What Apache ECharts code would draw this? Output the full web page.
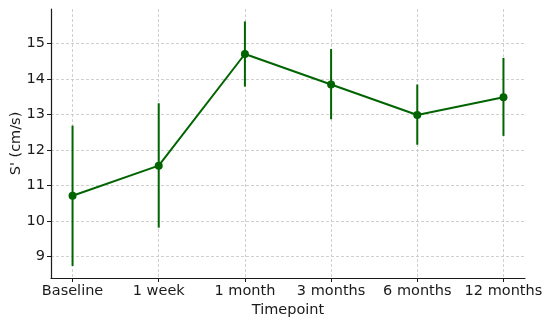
<!DOCTYPE html>
<html><head><meta charset="utf-8">
<script src="https://cdn.jsdelivr.net/npm/echarts@6/dist/echarts.min.js"></script>
<style>html,body{margin:0;padding:0;background:#fff}#c{width:550px;height:327px}</style>
</head><body><div id="c"></div>
<script>
const categories = ['Baseline', '1 week', '1 month', '3 months', '6 months', '12 months'];
const means = [10.71, 11.56, 14.71, 13.85, 12.99, 13.49];
const lower = [8.73, 9.81, 13.79, 12.87, 12.15, 12.40];
const upper = [12.69, 13.32, 15.63, 14.85, 13.85, 14.60];
const yTicks = [9, 10, 11, 12, 13, 14, 15];

const color = '#006400';
const font = 'DejaVu Sans';
const xIdx = categories.map((_, i) => i);

const chart = echarts.init(document.getElementById('c'), null, {renderer: 'canvas'});
chart.setOption({
  animation: false,
  backgroundColor: '#fff',
  grid: {left: 51, right: 25, top: 9, bottom: 49, outerBoundsMode: 'none', containLabel: false},
  xAxis: {
    type: 'value', min: -0.25, max: 5.25,
    name: 'Timepoint', nameLocation: 'middle', nameGap: 25, nameMoveOverlap: false,
    nameTextStyle: {fontFamily: font, fontSize: 14.5, color: '#1a1a1a'},
    axisLine: {show: true, onZero: false, lineStyle: {color: '#1a1a1a', width: 1.2}},
    axisTick: {show: true, customValues: xIdx, length: 4, lineStyle: {color: '#1a1a1a'}},
    axisLabel: {customValues: xIdx, margin: 6, fontFamily: font, fontSize: 14.5, color: '#1a1a1a',
      formatter: v => categories[Math.round(v)] || ''},
    splitLine: {show: true, lineStyle: {color: '#c4c4c4', type: [3, 2], width: 0.8}}
  },
  yAxis: {
    type: 'value', min: 8.39, max: 15.98,
    name: "S' (cm/s)", nameLocation: 'middle', nameGap: 27, nameMoveOverlap: false,
    nameTextStyle: {fontFamily: font, fontSize: 14.5, color: '#1a1a1a'},
    axisLine: {show: true, onZero: false, lineStyle: {color: '#1a1a1a', width: 1.2}},
    axisTick: {show: true, customValues: yTicks, length: 4, lineStyle: {color: '#1a1a1a'}},
    axisLabel: {customValues: yTicks, margin: 6, fontFamily: font, fontSize: 14.5, color: '#1a1a1a'},
    splitLine: {show: true, lineStyle: {color: '#c4c4c4', type: [3, 2], width: 0.8}}
  },
  series: [
    {
      type: 'custom',
      data: xIdx.map(i => [i, lower[i], upper[i]]),
      renderItem: (params, api) => {
        const p1 = api.coord([api.value(0), api.value(1)]);
        const p2 = api.coord([api.value(0), api.value(2)]);
        return {type: 'line', shape: {x1: p1[0], y1: p1[1], x2: p2[0], y2: p2[1]},
          style: {stroke: color, lineWidth: 2}};
      },
      z: 2
    },
    {
      type: 'line',
      data: xIdx.map(i => [i, means[i]]),
      symbol: 'circle', symbolSize: 8,
      lineStyle: {color: color, width: 2},
      itemStyle: {color: color},
      z: 3
    }
  ]
});
</script></body></html>
